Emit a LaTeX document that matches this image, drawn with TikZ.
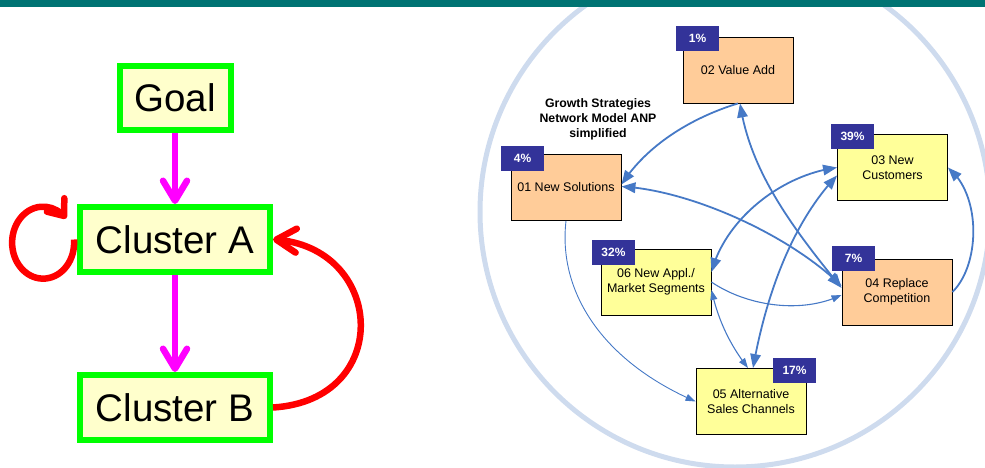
\documentclass[tikz,border=0pt]{standalone}
\usepackage{fontspec}
\setmainfont{Liberation Sans}
\usetikzlibrary{arrows.meta,bending}
\definecolor{band}{RGB}{0,115,115}
\definecolor{ring}{RGB}{206,219,238}
\definecolor{edgeblue}{RGB}{70,121,198}
\definecolor{tabblue}{RGB}{51,51,153}
\definecolor{peach}{RGB}{255,204,153}
\definecolor{lemon}{RGB}{255,255,153}
\definecolor{cream}{RGB}{255,255,204}
\definecolor{lime}{RGB}{0,255,0}
\definecolor{pinkarrow}{RGB}{255,0,255}
\definecolor{redarrow}{RGB}{255,0,0}
\begin{document}
\begin{tikzpicture}[x=1pt,y=-1pt,
  cluster/.style={draw=lime, fill=cream, line width=6pt, minimum width=190pt,
    minimum height=65pt, inner sep=0pt, font=\fontsize{38.5}{40}\selectfont},
  crit/.style={draw=black, line width=0.9pt, minimum width=110pt,
    minimum height=66pt, inner sep=0pt, align=center,
    font=\fontsize{12.5}{15}\selectfont},
  peachbox/.style={crit, fill=peach},
  lemonbox/.style={crit, fill=lemon},
  pct/.style={fill=tabblue, text=white, minimum width=43pt, minimum height=25pt,
    inner sep=0pt, font=\bfseries\fontsize{12}{14}\selectfont},
  pinkline/.style={draw=pinkarrow, line width=6.5pt,
    -{Straight Barb[length=20pt,width=24pt,line cap=round,line join=round]}},
  redline/.style={draw=redarrow, line width=6.5pt,
    -{Straight Barb[length=20pt,width=24pt,line cap=round,line join=round]}},
  loopline/.style={draw=redarrow, line width=6.5pt,
    -{Straight Barb[length=14pt,width=22pt,line cap=round,line join=round]}},
  thick link/.style={draw=edgeblue, line width=1.8pt},
  thin link/.style={draw=edgeblue, line width=1.1pt},
  bighead/.style={-{Triangle[length=14pt,width=10.5pt]}},
  bigheads/.style={{Triangle[length=14pt,width=10.5pt]}-{Triangle[length=14pt,width=10.5pt]}},
  smallhead/.style={-{Triangle[length=10pt,width=7pt]}},
  smallheads/.style={{Triangle[length=10pt,width=7pt]}-{Triangle[length=10pt,width=7pt]}},
]
\useasboundingbox (0,0) rectangle (985,468);
\clip (0,0) rectangle (985,468);

% background ring around the network model
\draw[ring, line width=5pt] (735,212) circle[radius=255pt];

% title band
\fill[band] (0,0) rectangle (985,7.5);

% ---------- left: cluster hierarchy ----------
\node[cluster, minimum width=111pt, minimum height=64pt] (goal) at (175,98) {Goal};
\node[cluster] (ca) at (175,239.5) {Cluster A};
\node[cluster] (cb) at (175,407.5) {Cluster B};

\draw[pinkline] (goal.south) -- (ca.north);
\draw[pinkline] (ca.south) -- (cb.north);
\draw[redline] (cb.east) .. controls (395,400) and (385,245) .. (ca.east);
% feedback loop of cluster A onto itself
\draw[loopline] ([shift={(-3pt,0pt)}]ca.west)
  arc[start angle=5, end angle=-318, x radius=31pt, y radius=36pt];

% ---------- right: growth strategies network ----------
\node[font=\bfseries\fontsize{12.3}{15}\selectfont, align=center] (title) at (598,119)
  {Growth Strategies\\Network Model ANP\\simplified};

\node[peachbox] (b02) at (738,70) {02 Value Add};
\node[peachbox] (b01) at (566,187.5) {01 New Solutions};
\node[lemonbox] (b03) at (892.5,167.5) {03 New\\Customers};
\node[lemonbox] (b06) at (656,282) {06 New Appl./\\Market Segments};
\node[peachbox] (b04) at (897,292) {04 Replace\\Competition};
\node[lemonbox] (b05) at (751,401.5) {05 Alternative\\Sales Channels};

\node[pct] (p02) at (697.5,38.5) {1\%};
\node[pct] (p01) at (522.5,158.5) {4\%};
\node[pct] (p03) at (852.5,136.5) {39\%};
\node[pct] (p06) at (613.5,252.5) {32\%};
\node[pct] (p04) at (853.5,258.5) {7\%};
\node[pct] (p05) at (794.5,370.5) {17\%};

% influences between the strategies
\draw[thick link, bighead] (b02.south) .. controls (700,115) and (650,140) .. ([yshift=3pt]b01.east);
\draw[thick link, bigheads] ([xshift=2pt]b02.south) .. controls (750,170) and (790,225) .. ([yshift=4pt]b04.west);
\draw[thick link, bigheads] ([yshift=1pt]b01.east) .. controls (690,190) and (790,235) .. ([yshift=6pt]b04.west);
\draw[thick link, bigheads] ([yshift=10pt]b06.east) .. controls (725,220) and (780,175) .. (b03.west);
\draw[thick link, bigheads] ([xshift=2pt]b05.north) .. controls (765,300) and (790,225) .. ([yshift=-8pt]b03.west);
\draw[thick link, bighead] (b04.east) .. controls (980,265) and (982,195) .. (b03.east);
\draw[thin link, smallhead] (b06.east) .. controls (745,305) and (800,315) .. ([yshift=-3pt]b04.west);
\draw[thin link, line width=0.9pt, smallhead] (b01.south) .. controls (558,290) and (600,360) .. (b05.west);
\draw[thin link, smallheads] ([yshift=-8pt]b06.east) .. controls (718,320) and (730,345) .. ([xshift=-3pt]b05.north);
\end{tikzpicture}
\end{document}
